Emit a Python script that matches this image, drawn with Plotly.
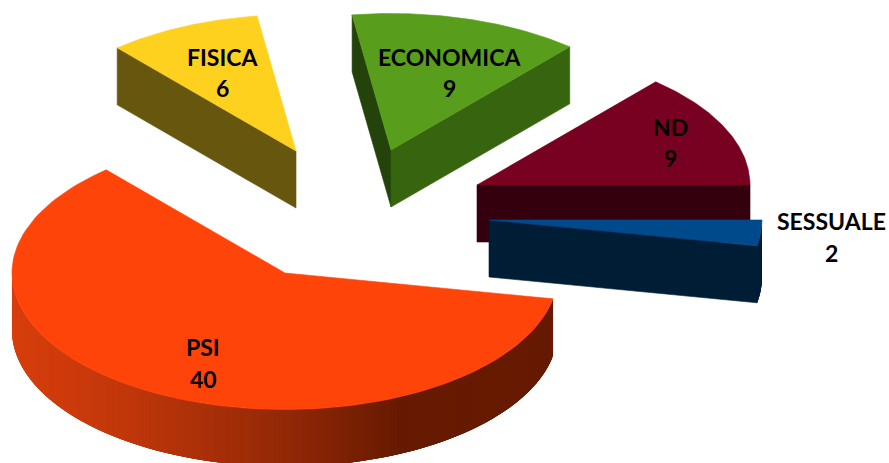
import math
import plotly.graph_objects as go

# Chart data
categories = ["PSI", "FISICA", "ECONOMICA", "ND", "SESSUALE"]
values = [40, 6, 9, 9, 2]

# Pie geometry, in plot units
FIRST_ANGLE = 10.9
RADIUS = 273
TILT = 0.5
DEPTH = 57
APEX = {
    "PSI": (285, 273),
    "FISICA": (296, 151),
    "ECONOMICA": (391, 150),
    "ND": (477, 185),
    "SESSUALE": (489, 220),
}

# Slice colours: top surface, and the cut faces at the start and end of the sweep
TOP = {"PSI": "#FF440A", "FISICA": "#FDD11E", "ECONOMICA": "#589E1C", "ND": "#780020", "SESSUALE": "#004A8C"}
SIDE_START = {"PSI": "#661A00", "FISICA": "#67560E", "ECONOMICA": "#23430B", "ND": "#34000D", "SESSUALE": "#001D36"}
SIDE_END = {"PSI": "#661A00", "FISICA": "#67560E", "ECONOMICA": "#36640F", "ND": "#34000D", "SESSUALE": "#001D36"}

# Horizontal shading of the PSI rim: (x, rgb)
RIM_STOPS = [(12, (216, 62, 12)), (130, (192, 54, 10)), (290, (145, 40, 6)), (400, (102, 26, 0)), (553, (102, 26, 0))]

# Label anchors: name line and value line
LABEL_POS = {
    "PSI": (203, 347, 379),
    "FISICA": (222, 57, 88),
    "ECONOMICA": (449, 57, 88),
    "ND": (670, 127, 158),
    "SESSUALE": (831, 221, 253),
}

# Painting order, back to front
DRAW_ORDER = ["FISICA", "ECONOMICA", "ND", "SESSUALE", "PSI"]


def rim_point(apex, angle):
    a = math.radians(angle)
    return apex[0] + RADIUS * math.cos(a), apex[1] + RADIUS * TILT * math.sin(a)


def polygon(points, color, edge=0.6):
    xs = [p[0] for p in points] + [points[0][0]]
    ys = [p[1] for p in points] + [points[0][1]]
    return go.Scatter(
        x=xs, y=ys, mode="lines", fill="toself", fillcolor=color,
        line=dict(color=color, width=edge), hoverinfo="skip", showlegend=False,
    )


def down(p):
    return (p[0], p[1] + DEPTH)


def rim_color(name, x):
    if name != "PSI":
        return SIDE_END[name]
    if x <= RIM_STOPS[0][0]:
        return "rgb(%d,%d,%d)" % RIM_STOPS[0][1]
    for (x0, c0), (x1, c1) in zip(RIM_STOPS, RIM_STOPS[1:]):
        if x <= x1:
            t = (x - x0) / (x1 - x0)
            return "rgb(%d,%d,%d)" % tuple(round(u + (v - u) * t) for u, v in zip(c0, c1))
    return "rgb(%d,%d,%d)" % RIM_STOPS[-1][1]


def slice_traces(name, start, sweep):
    apex = APEX[name]
    end = start + sweep
    traces = []

    # Cut faces that turn towards the viewer
    if math.sin(math.radians(start - 90)) > 0:
        p = rim_point(apex, start)
        traces.append(polygon([apex, p, down(p), down(apex)], SIDE_START[name]))
    if math.sin(math.radians(end + 90)) > 0:
        p = rim_point(apex, end)
        traces.append(polygon([apex, p, down(p), down(apex)], SIDE_END[name]))

    # Outer wall: strips run on under the next one so no seams show between them
    visible_end = 180 if start < 180 < end else end
    steps = max(2, int((visible_end - start) * 1.5))
    for i in range(steps):
        a0 = start + (visible_end - start) * i / steps
        a1 = min(visible_end, a0 + 4 * (visible_end - start) / steps)
        mid = start + (visible_end - start) * (i + 0.5) / steps
        if math.sin(math.radians(mid)) <= 0:
            continue
        arc = [rim_point(apex, a0 + (a1 - a0) * k / 6) for k in range(7)]
        outline = arc + [down(p) for p in reversed(arc)]
        traces.append(polygon(outline, rim_color(name, rim_point(apex, mid)[0]), edge=0))

    # Top surface
    arc = [rim_point(apex, start + sweep * i / 120) for i in range(121)]
    traces.append(polygon([apex] + arc, TOP[name]))
    return traces


total = sum(values)
spans = {}
angle = FIRST_ANGLE
for name, value in zip(categories, values):
    sweep = value / total * 360
    spans[name] = (angle, sweep)
    angle += sweep

fig = go.Figure()
for name in DRAW_ORDER:
    fig.add_traces(slice_traces(name, *spans[name]))

label_font = dict(family="Lato", size=23, color="#000000")
for name, value in zip(categories, values):
    x, y_name, y_value = LABEL_POS[name]
    fig.add_annotation(x=x, y=y_name, text="<b>%s</b>" % name, showarrow=False, font=label_font)
    fig.add_annotation(x=x, y=y_value, text="<b>%d</b>" % value, showarrow=False, font=label_font)

fig.update_layout(
    width=889, height=463, margin=dict(l=0, r=0, t=0, b=0),
    paper_bgcolor="#FFFFFF", plot_bgcolor="#FFFFFF", showlegend=False,
    xaxis=dict(range=[0, 889], visible=False, fixedrange=True),
    yaxis=dict(range=[463, 0], visible=False, fixedrange=True),
)
fig.write_html("out.html", config={"displayModeBar": False})
